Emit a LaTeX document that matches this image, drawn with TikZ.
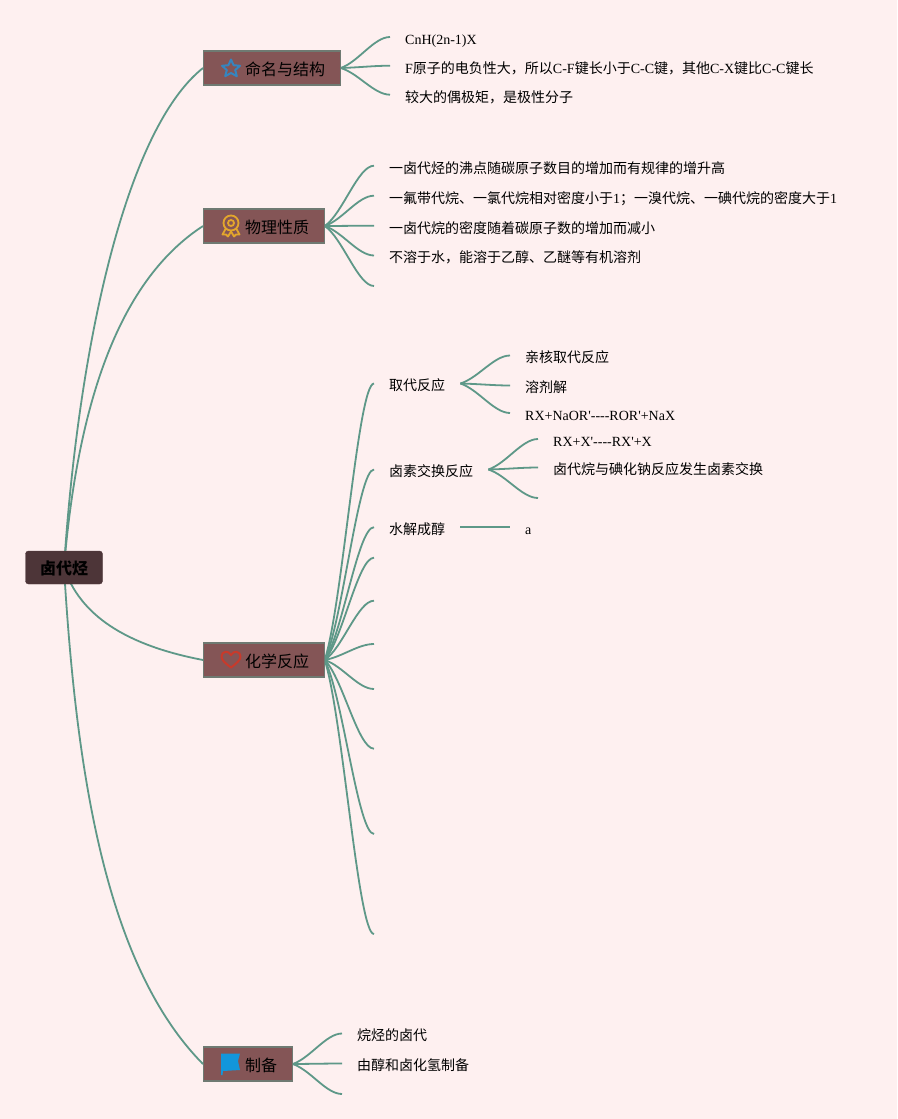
\documentclass[tikz,border=0pt]{standalone}
\usepackage{fontspec}
\usepackage{tikz}
\usepackage{xcolor}
\usetikzlibrary{backgrounds,calc,positioning}
\newfontfamily\lat{Liberation Serif}
\newfontfamily\cjk{Noto Sans CJK SC}
\newcommand{\zh}[1]{{\cjk #1}}
\definecolor{paper}{HTML}{FEF0F0}
\definecolor{linkcol}{HTML}{5E9888}
\definecolor{topiccol}{HTML}{845556}
\definecolor{edgecol}{HTML}{6F7A72}
\definecolor{rootcol}{HTML}{4D3538}
\definecolor{starcol}{HTML}{3585BF}
\definecolor{medalcol}{HTML}{E3A62C}
\definecolor{heartcol}{HTML}{C83A2B}
\definecolor{flagcol}{HTML}{1296DB}

\begin{document}
\begin{tikzpicture}[
          x=1pt, y=-1pt,
          link/.style={draw=linkcol, line width=1.8pt},
          branch/.style={link, to path={.. controls ($(\tikztostart)!.2!(\tikztotarget)+(8,0)$) and ($(\tikztotarget)-(16,0)$) .. (\tikztotarget)}},
          rootbox/.style={draw=rootcol, fill=rootcol, rounded corners=3pt, minimum width=77pt, minimum height=33pt, inner sep=0pt, text height=14.5pt, text depth=0.5pt, font=\fontsize{16}{18}\cjk\bfseries},
          topic/.style={draw=edgecol, line width=1.2pt, fill=topiccol, minimum height=34pt, inner ysep=0pt, inner xsep=15pt, anchor=west, text height=14.5pt, text depth=0.5pt, font=\fontsize{16}{18}\cjk},
          leaf/.style={inner ysep=0pt, inner xsep=15pt, anchor=west, text height=16pt, text depth=1.4pt, font=\fontsize{14}{16}\lat}
      ]
        \useasboundingbox (0,0) rectangle (897,1119);

        \node[rootbox] (root) at (64,567.5) {卤代烃};
        \node[topic] (naming) at (203,68) {\hspace*{26.5pt}命名与结构};
        \node[topic] (physical) at (203,226) {\hspace*{26.5pt}物理性质};
        \node[topic] (reaction) at (203,660) {\hspace*{26.5pt}化学反应};
        \node[topic] (making) at (203,1064) {\hspace*{26.5pt}制备};

        % icons
        \draw[draw=starcol, line width=2pt, line join=round] (231,59.5) -- (233.6,65.2) -- (240,65.8) -- (235.2,70) -- (236.8,76.2) -- (231,73) -- (225.2,76.2) -- (226.8,70) -- (222,65.8) -- (228.4,65.2) -- cycle;
        \draw[draw=medalcol, line width=1.8pt] (231,223) circle (7.5) (231,223) circle (3);
        \draw[draw=medalcol, line width=1.8pt, line join=round] (225.5,229) -- (222.5,234.5) -- (226,234.5) -- (228,236.5) -- (231,231.5) -- (234,236.5) -- (236,234.5) -- (239.5,234.5) -- (236.5,229);
        \draw[draw=heartcol, line width=2pt, line join=round] (231,667.5) .. controls (225,663) and (221.5,660) .. (221.5,656.5) .. controls (221.5,651) and (228.5,650) .. (231,655) .. controls (233.5,650) and (240.5,651) .. (240.5,656.5) .. controls (240.5,660) and (237,663) .. (231,667.5) -- cycle;
        \fill[flagcol] (221,1053.5) -- (240,1053.5) -- (238,1061) -- (240,1070) -- (223,1071) -- (222.5,1075) -- (221,1075) -- cycle;

        % first level
        \node[leaf] (formula) at (390,37) {CnH(2n-1)X};
        \node[leaf] (bond) at (390,65.7) {F\zh{原子的电负性大，所以}C-F\zh{键长小于}C-C\zh{键，其他}C-X\zh{键比}C-C\zh{键长}};
        \node[leaf] (dipole) at (390,94.7) {\zh{较大的偶极矩，是极性分子}};

        \node[leaf] (boiling) at (374,165.7) {\zh{一卤代烃的沸点随碳原子数目的增加而有规律的增升高}};
        \node[leaf] (density) at (374,195.7) {\zh{一氟带代烷、一氯代烷相对密度小于}1\zh{；一溴代烷、一碘代烷的密度大于}1};
        \node[leaf] (shrink) at (374,225.7) {\zh{一卤代烷的密度随着碳原子数的增加而减小}};
        \node[leaf] (soluble) at (374,255.5) {\zh{不溶于水，能溶于乙醇、乙醚等有机溶剂}};
        \coordinate (physend) at (374,286);

        \node[leaf] (subst) at (374,383.5) {\zh{取代反应}};
        \node[leaf] (halogen) at (374,469.5) {\zh{卤素交换反应}};
        \node[leaf] (hydro) at (374,527.2) {\zh{水解成醇}};
        \coordinate (reactd) at (374,557.7);
        \coordinate (reacte) at (374,600.7);
        \coordinate (reactf) at (374,644);
        \coordinate (reactg) at (374,689);
        \coordinate (reacth) at (374,748.7);
        \coordinate (reacti) at (374,834);
        \coordinate (reactj) at (374,934);

        \node[leaf] (alkane) at (342,1033.5) {\zh{烷烃的卤代}};
        \node[leaf] (alcohol) at (342,1063.5) {\zh{由醇和卤化氢制备}};
        \coordinate (makeend) at (342,1094);

        % second level
        \node[leaf] (snucl) at (510,355.5) {\zh{亲核取代反应}};
        \node[leaf] (solvo) at (510,385.5) {\zh{溶剂解}};
        \node[leaf] (ether) at (510,413) {RX+NaOR'----ROR'+NaX};
        \node[leaf] (swap) at (538,439) {RX+X'----RX'+X};
        \node[leaf] (iodide) at (538,467.5) {\zh{卤代烷与碘化钠反应发生卤素交换}};
        \coordinate (halend) at (538,498);
        \node[leaf] (hydroa) at (510,527.2) {a};

        \begin{scope}[on background layer]
          \fill[paper] (0,0) rectangle (897,1119);
          \draw[link] (root.center) .. controls (78,350) and (125,130) .. (naming.west);
          \draw[link] (root.center) .. controls (78,400) and (120,280) .. (physical.west);
          \draw[link] (root.center) .. controls (80,615) and (125,645) .. (reaction.west);
          \draw[link] (root.center) .. controls (76,770) and (105,965) .. (making.west);

          \draw[branch] (naming.east) to (formula.west);
          \draw[branch] (naming.east) to (bond.west);
          \draw[branch] (naming.east) to (dipole.west);

          \draw[branch] (physical.east) to (boiling.west);
          \draw[branch] (physical.east) to (density.west);
          \draw[branch] (physical.east) to (shrink.west);
          \draw[branch] (physical.east) to (soluble.west);
          \draw[branch] (physical.east) to (physend);

          \draw[branch] (reaction.east) to (subst.west);
          \draw[branch] (reaction.east) to (halogen.west);
          \draw[branch] (reaction.east) to (hydro.west);
          \foreach \n in {reactd,reacte,reactf,reactg,reacth,reacti,reactj}
            \draw[branch] (reaction.east) to (\n);

          \draw[branch] (making.east) to (alkane.west);
          \draw[branch] (making.east) to (alcohol.west);
          \draw[branch] (making.east) to (makeend);

          \draw[branch] (subst.east) to (snucl.west);
          \draw[branch] (subst.east) to (solvo.west);
          \draw[branch] (subst.east) to (ether.west);
          \draw[branch] (halogen.east) to (swap.west);
          \draw[branch] (halogen.east) to (iodide.west);
          \draw[branch] (halogen.east) to (halend);
          \draw[link] (hydro.east) -- (hydroa.west);
        \end{scope}
      \end{tikzpicture}
\end{document}
